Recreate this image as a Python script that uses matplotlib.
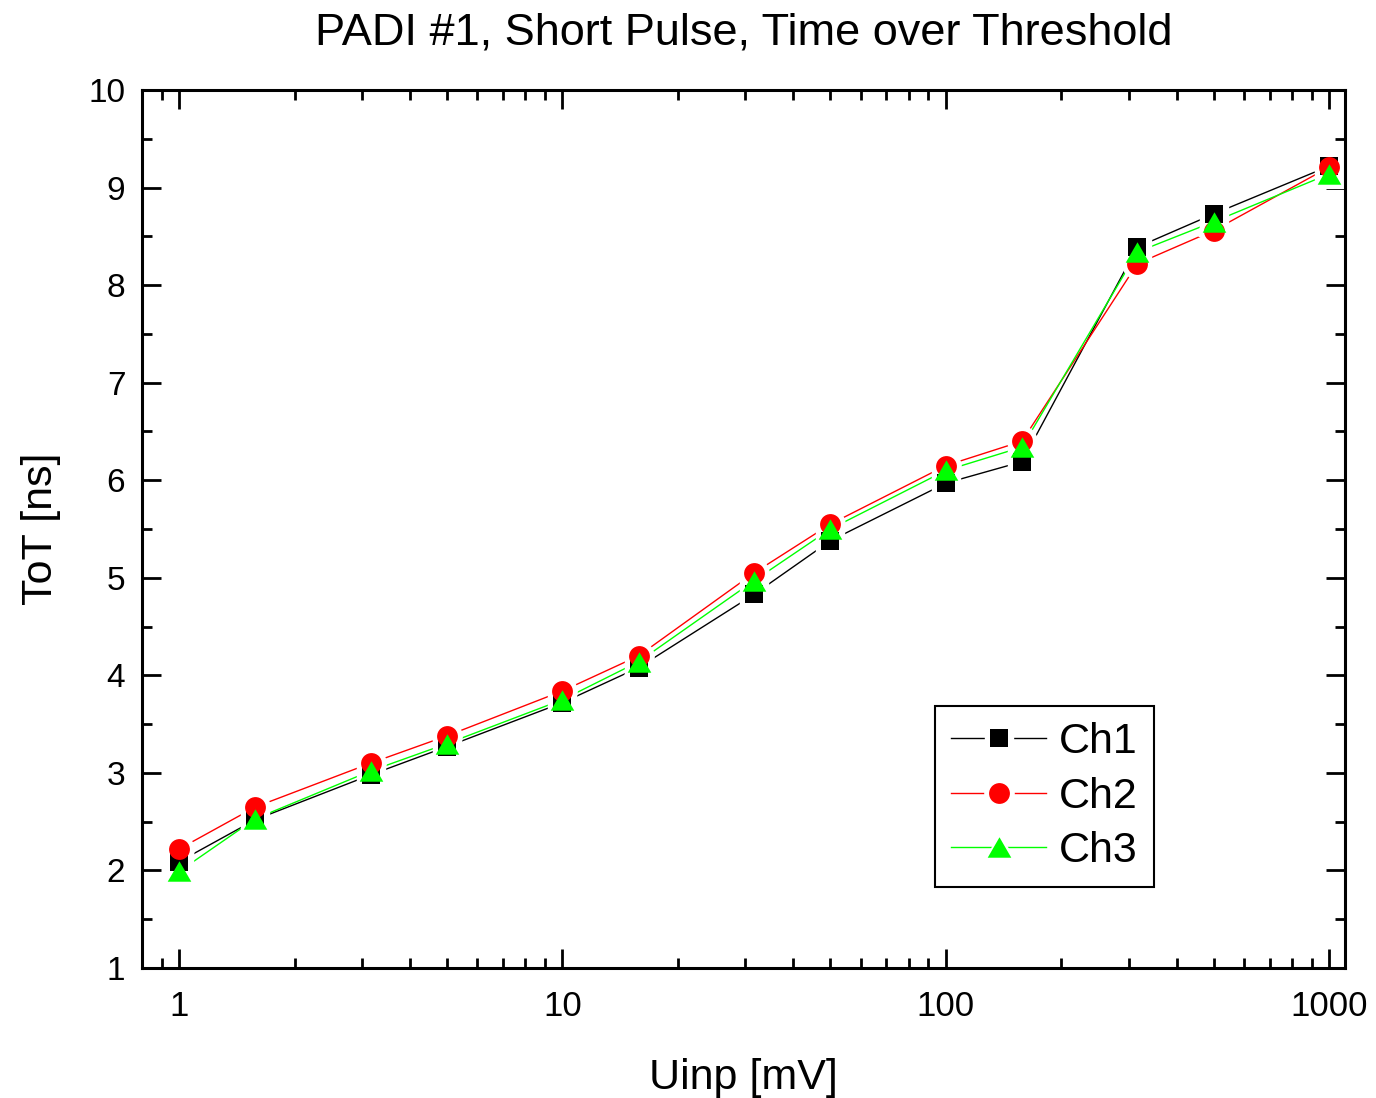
import matplotlib
matplotlib.use('Agg')
import matplotlib.pyplot as plt
from matplotlib.legend_handler import HandlerTuple
from matplotlib.ticker import FixedLocator, MultipleLocator, LogLocator, NullFormatter

plt.rcParams['font.family'] = ['Liberation Sans', 'DejaVu Sans']

# Data
uinp = [1, 1.58, 3.16, 5, 10, 15.8, 31.6, 50, 100, 158, 316, 500, 1000]
ch1 = [2.09, 2.52, 2.98, 3.27, 3.72, 4.08, 4.83, 5.38, 5.97, 6.19, 8.39, 8.73, 9.22]
ch2 = [2.22, 2.65, 3.10, 3.38, 3.84, 4.20, 5.05, 5.55, 6.15, 6.40, 8.22, 8.56, 9.21]
ch3 = [1.99, 2.53, 3.02, 3.30, 3.75, 4.14, 4.97, 5.50, 6.10, 6.34, 8.34, 8.65, 9.14]
labels = ['Ch1', 'Ch2', 'Ch3']

xticks = [1, 10, 100, 1000]
xticklabels = ['1', '10', '100', '1000']

tri = [(-1, -0.866), (1, -0.866), (0, 0.866)]
styles = [
    dict(color='black', marker='s', ms=13.5),
    dict(color='#ff0000', marker='o', ms=15),
    dict(color='#00ff00', marker=tri, ms=17),
]

fig = plt.figure(figsize=(13.76, 10.98), dpi=100)
ax = fig.add_axes([0.1032, 0.1184, 0.8743, 0.7996])

series = [ch1, ch2, ch3]

# Lines first
line_objs = []
for ys, st in zip(series, styles):
    l, = ax.plot(uinp, ys, color=st['color'], lw=1.0, zorder=2)
    line_objs.append(l)
# White halos give the gap between line and marker
halo_objs = []
for ys, st in zip(series, styles):
    h, = ax.plot(uinp, ys, ls='none', marker=st['marker'], ms=st['ms'] + 6,
                 mfc='white', mec='white', zorder=3)
    halo_objs.append(h)
# Coloured markers
mark_objs = []
for i, (ys, st) in enumerate(zip(series, styles)):
    m, = ax.plot(uinp, ys, ls='none', marker=st['marker'], ms=st['ms'],
                 mfc=st['color'], mec=st['color'], mew=0, zorder=4 + i)
    mark_objs.append(m)

handles = [(l, h, m) for l, h, m in zip(line_objs, halo_objs, mark_objs)]

ax.set_xscale('log')
ax.set_xlim(0.8, 1100)
ax.set_ylim(1, 10)

ax.xaxis.set_major_locator(FixedLocator(xticks))
ax.set_xticklabels(xticklabels)
ax.xaxis.set_minor_locator(LogLocator(base=10, subs=range(2, 10)))
ax.xaxis.set_minor_formatter(NullFormatter())
ax.yaxis.set_major_locator(MultipleLocator(1))
ax.yaxis.set_minor_locator(MultipleLocator(0.5))

for s in ax.spines.values():
    s.set_linewidth(2.2)
    s.set_zorder(20)
ax.tick_params(which='both', direction='in', top=True, right=True, width=2)
ax.tick_params(which='major', length=14)
ax.tick_params(which='minor', length=7)
ax.tick_params(axis='x', which='major', labelsize=25, pad=16)
ax.tick_params(axis='y', which='major', labelsize=24, pad=12)

ax.set_xlabel('Uinp [mV]', fontsize=31, labelpad=25)
ax.set_ylabel('ToT [ns]', fontsize=31, labelpad=20)
ax.set_title('PADI #1, Short Pulse, Time over Threshold', fontsize=32.5, pad=33)

leg = ax.legend(handles, labels, handler_map={tuple: HandlerTuple(ndivide=1)},
                loc='lower left', bbox_to_anchor=(0.659, 0.092), borderaxespad=0,
                fontsize=31, handlelength=2.2, handletextpad=0.3, labelspacing=0.33,
                borderpad=0.38, fancybox=False, framealpha=1, edgecolor='black')
leg.get_frame().set_linewidth(1.5)
leg.set_zorder(10)

fig.savefig('out.png', dpi=100)
